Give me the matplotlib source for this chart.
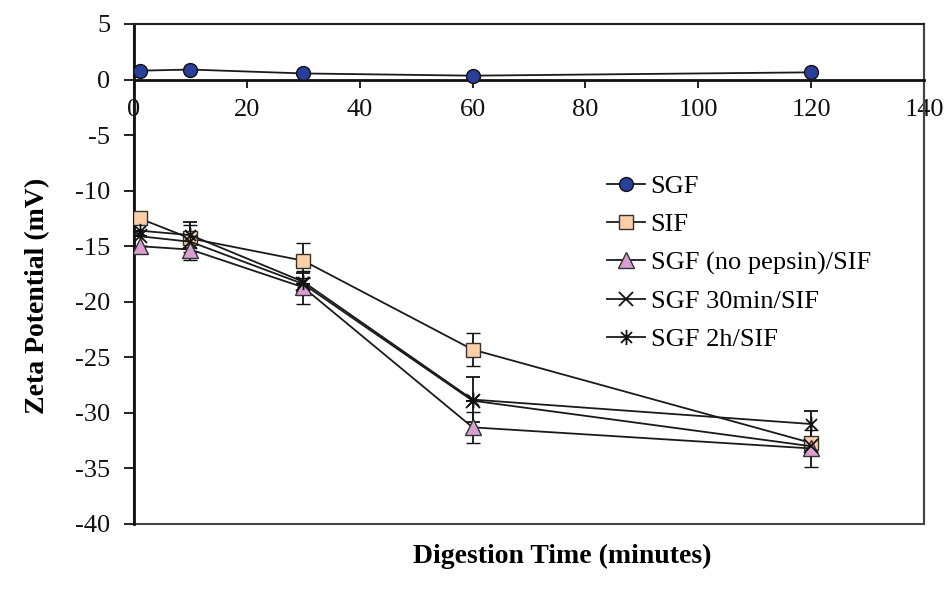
import matplotlib
matplotlib.use("Agg")
import matplotlib.pyplot as plt
from matplotlib.path import Path
from matplotlib.patches import Rectangle
from matplotlib.lines import Line2D

# ---- data ----
time_min = [1, 10, 30, 60, 120]
sgf = [0.8, 0.9, 0.55, 0.35, 0.65]
sif = [-12.5, -14.3, -16.3, -24.3, -32.7]
sgf_nopepsin_sif = [-15.0, -15.3, -18.7, -31.3, -33.2]
sgf_30min_sif = [-14.1, -14.6, -18.4, -28.9, -33.0]
sgf_2h_sif = [-13.6, -14.0, -18.2, -28.8, -31.0]

sif_err = [0.0, 1.2, 1.6, 1.5, 0.0]
nopepsin_err = [0.0, 0.9, 1.5, 1.4, 1.7]
min30_err = [0.0, 0.0, 0.0, 0.0, 0.0]
h2_err = [0.0, 1.2, 0.8, 2.0, 1.2]

labels = ["SGF", "SIF", "SGF (no pepsin)/SIF", "SGF 30min/SIF", "SGF 2h/SIF"]
x_ticks = [0, 20, 40, 60, 80, 100, 120, 140]
y_ticks = [5, 0, -5, -10, -15, -20, -25, -30, -35, -40]

plt.rcParams['font.family'] = ['Liberation Serif', 'DejaVu Serif']

fig = plt.figure(figsize=(9.52, 6.02), dpi=100)
W, H = 952, 602
L, R, T, B = 134, 924, 24, 524
ax = fig.add_axes([L / W, 1 - B / H, (R - L) / W, (B - T) / H])

star_path = Path([(0, -1), (0, 1), (-0.72, -0.72), (0.72, 0.72), (-0.72, 0.72), (0.72, -0.72)],
                 [Path.MOVETO, Path.LINETO, Path.MOVETO, Path.LINETO, Path.MOVETO, Path.LINETO])

lc = '#1a1a1a'
styles = [
    dict(marker='o', ms=10, mfc='#2a3f9a', mec='#111111', mew=1.0),
    dict(marker='s', ms=10, mfc='#fccfa6', mec='#333333', mew=1.0),
    dict(marker='^', ms=11, mfc='#d99fd0', mec='#333333', mew=1.0),
    dict(marker='x', ms=10, mec='#111111', mew=1.3),
    dict(marker=star_path, ms=11, mec='#111111', mew=1.3),
]

ax.plot(time_min, sgf, color=lc, lw=1.3, zorder=5, **styles[0])

series = [
    (sif, sif_err),
    (sgf_nopepsin_sif, nopepsin_err),
    (sgf_30min_sif, min30_err),
    (sgf_2h_sif, h2_err),
]
for (vals, err), st in zip(series, styles[1:]):
    ax.errorbar(time_min, vals, yerr=err, color=lc, lw=1.3, ecolor='#111111', elinewidth=1.3,
                capsize=5, capthick=1.3, zorder=4, **st)

ax.set_xlim(0, 140)
ax.set_ylim(-40, 5)
ax.set_xticks(x_ticks)
ax.set_yticks(y_ticks)
ax.set_xticklabels([str(v) for v in x_ticks])
ax.set_yticklabels([str(v) for v in y_ticks])

ax.spines['bottom'].set_position(('data', 0))
ax.spines['bottom'].set_linewidth(2.0)
ax.spines['bottom'].set_color('#111111')
ax.spines['left'].set_linewidth(2.0)
ax.spines['left'].set_color('#111111')
ax.spines['top'].set_linewidth(1.5)
ax.spines['top'].set_color('#222222')
ax.spines['right'].set_linewidth(1.5)
ax.spines['right'].set_color('#444444')
ax.add_patch(Rectangle((0, 0), 1, 1, transform=ax.transAxes, fill=False,
                       edgecolor='#444444', lw=1.5, zorder=0, clip_on=False))

ax.tick_params(axis='x', direction='out', length=6, width=1.3, labelsize=19, pad=8, colors='#111111')
ax.tick_params(axis='y', direction='out', length=7, width=1.3, labelsize=19, pad=10, colors='#111111')

handles = [Line2D([], [], color=lc, lw=1.3, **st) for st in styles]
leg = ax.legend(handles, labels, loc='upper left',
                bbox_to_anchor=((607 - L) / (R - L), 1 - (175 - T) / (B - T)),
                frameon=False, fontsize=19, handlelength=1.45, handletextpad=0.2,
                labelspacing=0.55, borderaxespad=0, borderpad=0)

fig.text(38 / W, 1 - 296 / H, "Zeta Potential (mV)", rotation=90, ha='center', va='center',
         fontsize=20, fontweight='bold')
fig.text(562 / W, 1 - 556 / H, "Digestion Time (minutes)", ha='center', va='center',
         fontsize=20, fontweight='bold')

fig.savefig("out.png", dpi=100)
